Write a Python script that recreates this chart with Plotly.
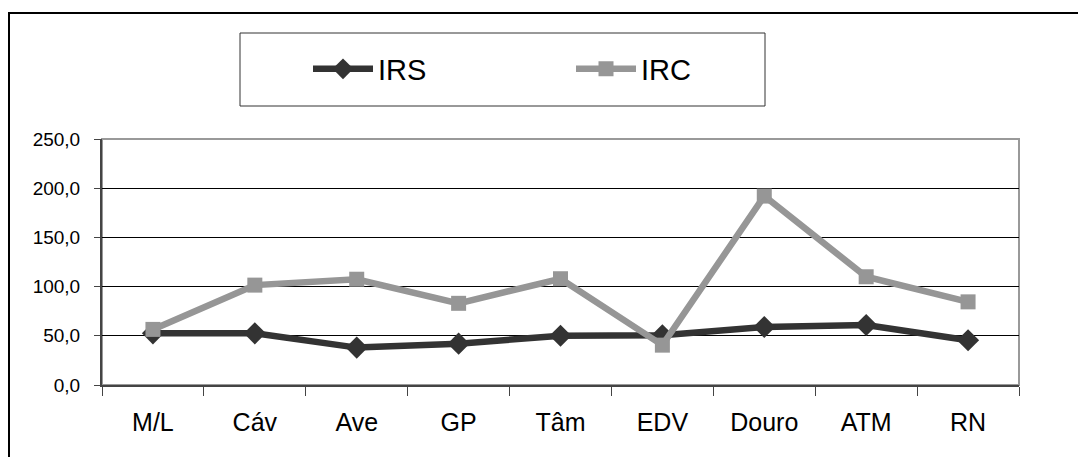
import plotly.graph_objects as go

categories = ["M/L", "Cáv", "Ave", "GP", "Tâm", "EDV", "Douro", "ATM", "RN"]
irs = [52.5, 52.5, 38.0, 42.0, 50.0, 50.5, 59.0, 61.0, 45.5]
irc = [56.5, 101.5, 107.5, 83.0, 108.0, 40.5, 192.0, 110.0, 84.5]
y_ticks = [0, 50, 100, 150, 200, 250]

W, H = 1078, 457
L, R, T, B = 102, 59, 139, 72
pw, ph = W - L - R, H - T - B

def px_x(p):
    return (p - L) / pw

def px_y(p):
    return (H - B - p) / ph

FONT = "Liberation Sans, Arial, sans-serif"

fig = go.Figure()
fig.add_trace(go.Scatter(
    x=categories, y=irs, name="IRS", mode="lines+markers",
    line=dict(color="#333333", width=6.5),
    marker=dict(symbol="diamond", size=17, color="#333333"),
))
fig.add_trace(go.Scatter(
    x=categories, y=irc, name="IRC", mode="lines+markers",
    line=dict(color="#969696", width=6.5),
    marker=dict(symbol="square", size=15, color="#969696"),
))

shapes = [
    # plot border (gray)
    dict(type="rect", xref="paper", yref="paper", x0=0, y0=0, x1=1, y1=1,
         line=dict(color="#999999", width=2), layer="below"),
    # outer chart frame
    dict(type="path", xref="paper", yref="paper",
         path=f"M {px_x(9)},{px_y(470)} L {px_x(9)},{px_y(13)} L {px_x(1090)},{px_y(13)}",
         line=dict(color="#000000", width=2)),
    # legend box
    dict(type="rect", xref="paper", yref="paper",
         x0=px_x(240), x1=px_x(765), y0=px_y(106), y1=px_y(33),
         line=dict(color="#333333", width=1), fillcolor="rgba(0,0,0,0)"),
]

fig.update_layout(
    width=W, height=H, autosize=False,
    margin=dict(l=L, r=R, t=T, b=B, pad=0),
    paper_bgcolor="white", plot_bgcolor="white",
    separators=", ",
    font=dict(family=FONT, color="#000000"),
    shapes=shapes,
    showlegend=True,
    legend=dict(
        orientation="h", x=px_x(308), y=px_y(69), xanchor="left", yanchor="middle",
        font=dict(size=29, family=FONT, color="#000000"),
        bgcolor="rgba(0,0,0,0)", borderwidth=0,
        entrywidth=188, itemwidth=60,
    ),
    xaxis=dict(
        type="category", range=[-0.5, 8.5], tickson="boundaries",
        showgrid=False, showline=True, linecolor="#444444", linewidth=2,
        ticks="outside", ticklen=9, tickcolor="#444444", tickwidth=1,
        tickfont=dict(size=25, family=FONT, color="#000000"),
        ticklabelstandoff=14,
    ),
    yaxis=dict(
        range=[0, 250], tickvals=y_ticks, tickformat=".1f",
        showgrid=True, gridcolor="#000000", gridwidth=1,
        showline=True, linecolor="#444444", linewidth=2,
        ticks="outside", ticklen=6, tickcolor="#444444", tickwidth=1,
        tickfont=dict(size=19, family=FONT, color="#000000"),
        ticklabelstandoff=10, zeroline=False,
    ),
)

fig.write_html("out.html")
